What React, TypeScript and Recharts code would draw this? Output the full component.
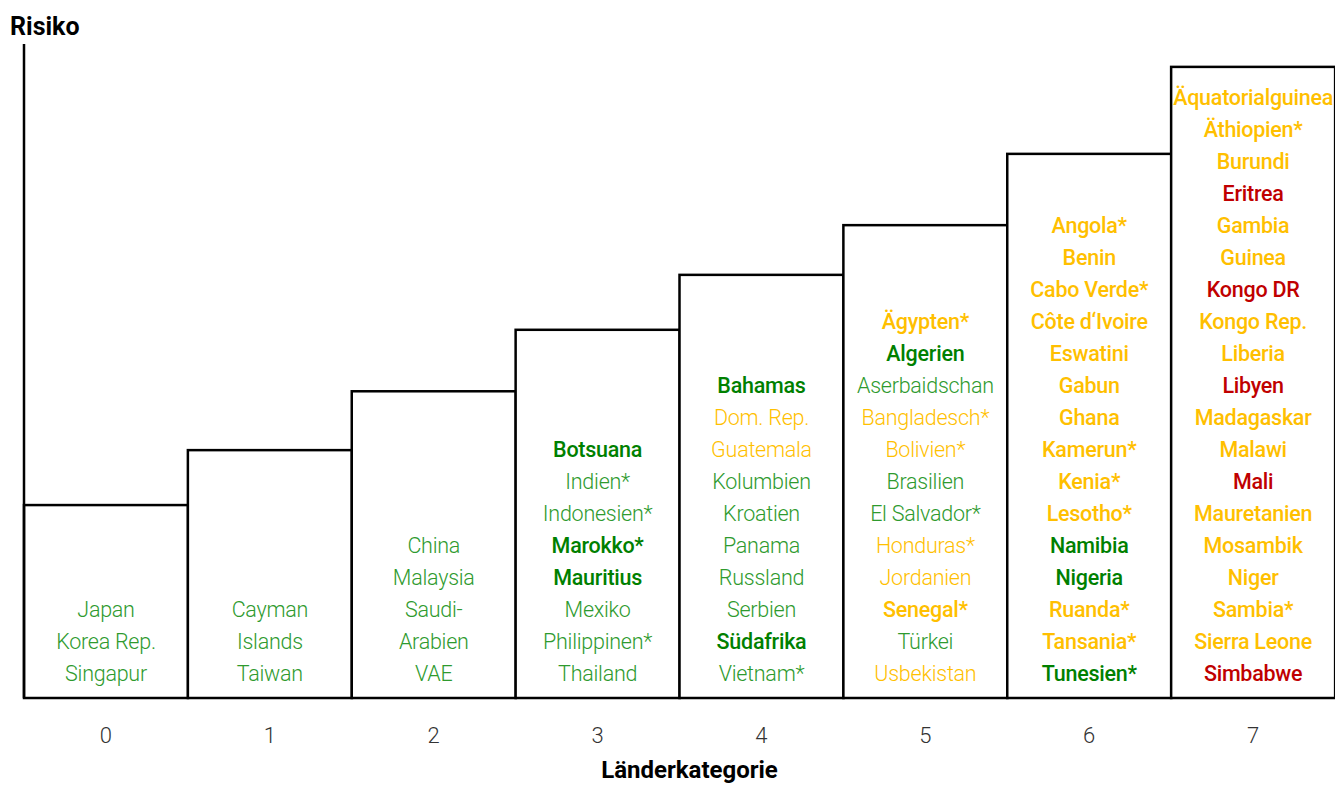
import { Bar, BarChart, XAxis, YAxis } from "recharts";

// Länderkategorie 0-7 and the relative risk level (no scale shown in the source)
const categories = ["0", "1", "2", "3", "4", "5", "6", "7"];
const risk = [29.5, 37.9, 46.9, 56.3, 64.7, 72.3, 83.2, 96.5];

// tone: low / lowStrong = green, mid / midStrong = amber, high = red
const cat0 = [["Japan", "low"], ["Korea Rep.", "low"], ["Singapur", "low"]];
const cat1 = [["Cayman", "low"], ["Islands", "low"], ["Taiwan", "low"]];
const cat2 = [["China", "low"], ["Malaysia", "low"], ["Saudi-", "low"], ["Arabien", "low"], ["VAE", "low"]];
const cat3 = [
  ["Botsuana", "lowStrong"], ["Indien*", "low"], ["Indonesien*", "low"], ["Marokko*", "lowStrong"],
  ["Mauritius", "lowStrong"], ["Mexiko", "low"], ["Philippinen*", "low"], ["Thailand", "low"],
];
const cat4 = [
  ["Bahamas", "lowStrong"], ["Dom. Rep.", "mid"], ["Guatemala", "mid"], ["Kolumbien", "low"],
  ["Kroatien", "low"], ["Panama", "low"], ["Russland", "low"], ["Serbien", "low"],
  ["Südafrika", "lowStrong"], ["Vietnam*", "low"],
];
const cat5 = [
  ["Ägypten*", "midStrong"], ["Algerien", "lowStrong"], ["Aserbaidschan", "low"], ["Bangladesch*", "mid"],
  ["Bolivien*", "mid"], ["Brasilien", "low"], ["El Salvador*", "low"], ["Honduras*", "mid"],
  ["Jordanien", "mid"], ["Senegal*", "midStrong"], ["Türkei", "low"], ["Usbekistan", "mid"],
];
const cat6 = [
  ["Angola*", "midStrong"], ["Benin", "midStrong"], ["Cabo Verde*", "midStrong"], ["Côte d‘Ivoire", "midStrong"],
  ["Eswatini", "midStrong"], ["Gabun", "midStrong"], ["Ghana", "midStrong"], ["Kamerun*", "midStrong"],
  ["Kenia*", "midStrong"], ["Lesotho*", "midStrong"], ["Namibia", "lowStrong"], ["Nigeria", "lowStrong"],
  ["Ruanda*", "midStrong"], ["Tansania*", "midStrong"], ["Tunesien*", "lowStrong"],
];
const cat7 = [
  ["Äquatorialguinea", "midStrong"], ["Äthiopien*", "midStrong"], ["Burundi", "midStrong"], ["Eritrea", "high"],
  ["Gambia", "midStrong"], ["Guinea", "midStrong"], ["Kongo DR", "high"], ["Kongo Rep.", "midStrong"],
  ["Liberia", "midStrong"], ["Libyen", "high"], ["Madagaskar", "midStrong"], ["Malawi", "midStrong"],
  ["Mali", "high"], ["Mauretanien", "midStrong"], ["Mosambik", "midStrong"], ["Niger", "midStrong"],
  ["Sambia*", "midStrong"], ["Sierra Leone", "midStrong"], ["Simbabwe", "high"],
];
const countries = [cat0, cat1, cat2, cat3, cat4, cat5, cat6, cat7];

const toneStyle: Record<string, { fill: string; fontWeight: number }> = {
  low: { fill: "#2e9a2e", fontWeight: 300 },
  lowStrong: { fill: "#008000", fontWeight: 500 },
  mid: { fill: "#ffc000", fontWeight: 300 },
  midStrong: { fill: "#ffbf00", fontWeight: 500 },
  high: { fill: "#c00000", fontWeight: 500 },
};

const data = categories.map((c, i) => ({ name: c, risk: risk[i], countries: countries[i] }));

const FONT = "Roboto, 'Noto Sans', sans-serif";
const LINE = 32;

function CountryBox(props: any) {
  const { x, y, width, height, payload } = props;
  const list: string[][] = payload.countries;
  const bottom = y + height;
  const cx = x + width / 2;
  return (
    <g>
      <rect x={x} y={y} width={width} height={height} fill="#fff" stroke="#000" strokeWidth={2.5} />
      {list.map(([label, tone], i) => (
        <text
          key={label}
          x={cx}
          y={bottom - 25 - (list.length - 1 - i) * LINE}
          textAnchor="middle"
          dominantBaseline="central"
          fontFamily={FONT}
          fontSize={21.5}
          letterSpacing={-0.25}
          {...toneStyle[tone]}
        >
          {label}
        </text>
      ))}
    </g>
  );
}

export default function App() {
  return (
    <div style={{ position: "absolute", left: 0, top: 0, width: 1335, height: 787, background: "#fff" }}>
      <div
        style={{
          position: "absolute",
          left: 10,
          top: 12,
          fontFamily: FONT,
          fontWeight: 700,
          fontSize: 25,
          lineHeight: "30px",
          color: "#000",
        }}
      >
        Risiko
      </div>
      <BarChart
        width={1335}
        height={787}
        data={data}
        margin={{ top: 44, right: 0, left: 0, bottom: 0 }}
        barCategoryGap={0}
      >
        <YAxis
          width={24}
          domain={[0, 100]}
          tick={false}
          tickLine={false}
          axisLine={{ stroke: "#000", strokeWidth: 2.5 }}
        />
        <XAxis
          dataKey="name"
          height={89}
          axisLine={false}
          tickLine={false}
          tickMargin={23}
          tick={{ fontSize: 22, fill: "#333", fontFamily: FONT, fontWeight: 300 }}
          label={{
            value: "Länderkategorie",
            position: "insideBottom",
            offset: 9,
            dx: 10,
            fontSize: 24,
            fontWeight: 700,
            fill: "#000",
            fontFamily: FONT,
          }}
        />
        <Bar dataKey="risk" isAnimationActive={false} shape={CountryBox} />
      </BarChart>
    </div>
  );
}
